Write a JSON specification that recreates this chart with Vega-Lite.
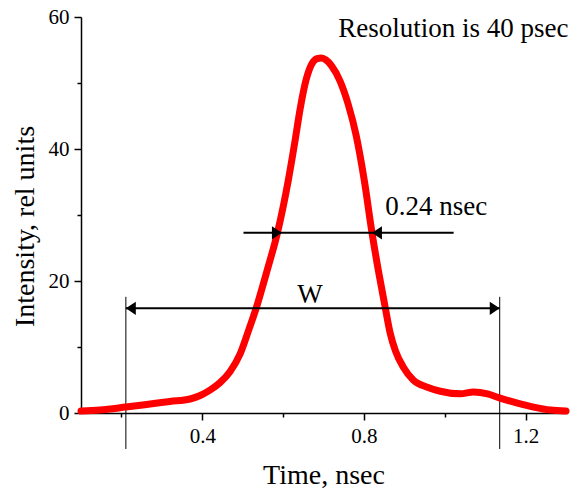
{
  "$schema": "https://vega.github.io/schema/vega-lite/v6.json",
  "width": 485,
  "height": 396,
  "autosize": {"type": "none"},
  "padding": {"left": 81, "top": 17, "right": 5, "bottom": 76},
  "background": "white",
  "config": {
    "view": {"stroke": null},
    "font": "Liberation Serif",
    "axis": {
      "grid": false,
      "domainColor": "black",
      "tickColor": "black",
      "labelColor": "black",
      "titleColor": "black",
      "domainWidth": 1.5,
      "tickWidth": 1.5,
      "labelFont": "Liberation Serif",
      "titleFont": "Liberation Serif",
      "titleFontWeight": "normal"
    }
  },
  "datasets": {
    "curve": [
      {"t": 0.100, "v": 0.30},
      {"t": 0.147, "v": 0.45},
      {"t": 0.211, "v": 0.90},
      {"t": 0.271, "v": 1.36},
      {"t": 0.320, "v": 1.74},
      {"t": 0.370, "v": 2.12},
      {"t": 0.395, "v": 2.65},
      {"t": 0.420, "v": 3.5},
      {"t": 0.444, "v": 4.6},
      {"t": 0.469, "v": 6.3},
      {"t": 0.494, "v": 9.0},
      {"t": 0.514, "v": 12.4},
      {"t": 0.535, "v": 16.2},
      {"t": 0.561, "v": 21.7},
      {"t": 0.586, "v": 27.3},
      {"t": 0.613, "v": 35.3},
      {"t": 0.630, "v": 41.4},
      {"t": 0.642, "v": 46.0},
      {"t": 0.657, "v": 50.5},
      {"t": 0.672, "v": 53.0},
      {"t": 0.684, "v": 53.7},
      {"t": 0.695, "v": 53.8},
      {"t": 0.706, "v": 53.5},
      {"t": 0.720, "v": 52.6},
      {"t": 0.741, "v": 50.3},
      {"t": 0.761, "v": 46.8},
      {"t": 0.781, "v": 42.0},
      {"t": 0.801, "v": 35.2},
      {"t": 0.820, "v": 27.3},
      {"t": 0.836, "v": 21.5},
      {"t": 0.853, "v": 15.9},
      {"t": 0.865, "v": 12.1},
      {"t": 0.878, "v": 9.4},
      {"t": 0.898, "v": 6.9},
      {"t": 0.922, "v": 5.0},
      {"t": 0.957, "v": 3.9},
      {"t": 0.989, "v": 3.3},
      {"t": 1.039, "v": 2.9},
      {"t": 1.071, "v": 3.2},
      {"t": 1.106, "v": 2.9},
      {"t": 1.135, "v": 2.3},
      {"t": 1.180, "v": 1.5},
      {"t": 1.220, "v": 0.9},
      {"t": 1.262, "v": 0.45},
      {"t": 1.300, "v": 0.30}
    ],
    "vlines": [
      {"t": 0.211, "v1": -5.45, "v2": 17.6},
      {"t": 1.136, "v1": -5.45, "v2": 17.6}
    ],
    "hlines": [
      {"t1": 0.211, "t2": 1.136, "v": 15.86},
      {"t1": 0.502, "t2": 1.022, "v": 27.3}
    ],
    "arrows": [
      {"t": 0.211, "v": 15.86, "dir": "left"},
      {"t": 1.136, "v": 15.86, "dir": "right"},
      {"t": 0.597, "v": 27.3, "dir": "right"},
      {"t": 0.820, "v": 27.3, "dir": "left"}
    ],
    "labels": [
      {"t": 0.7365, "v": 57.0, "text": "Resolution is 40 psec"},
      {"t": 0.853, "v": 30.0, "text": "0.24 nsec"},
      {"t": 0.635, "v": 16.67, "text": "W"}
    ]
  },
  "resolve": {"axis": {"x": "independent", "y": "independent"}},
  "layer": [
    {
      "data": {"name": "vlines"},
      "mark": {"type": "rule", "color": "black", "strokeWidth": 1},
      "encoding": {
        "x": {"field": "t", "type": "quantitative", "scale": {"domain": [0.1, 1.3], "nice": false, "zero": false},
              "axis": {"orient": "bottom", "values": [0.2, 0.6, 1.0], "labels": false, "domain": false, "tickSize": 4, "title": null}},
        "y": {"field": "v1", "type": "quantitative", "scale": {"domain": [0, 60], "nice": false},
              "axis": {"orient": "left", "values": [10, 30, 50], "labels": false, "domain": false, "tickSize": 4, "title": null}},
        "y2": {"field": "v2"}
      }
    },
    {
      "data": {"name": "curve"},
      "mark": {"type": "line", "color": "#ff0000", "strokeWidth": 7, "interpolate": "monotone", "strokeCap": "round", "strokeJoin": "round"},
      "encoding": {
        "x": {"field": "t", "type": "quantitative",
              "axis": {"orient": "bottom", "values": [0.4, 0.8, 1.2], "format": ".1f", "tickSize": 7, "labelFontSize": 21, "labelPadding": 5,
                       "title": "Time, nsec", "titleFontSize": 28, "titleBaseline": "alphabetic", "titleY": 70, "titleAnchor": "middle"}},
        "y": {"field": "v", "type": "quantitative",
              "axis": {"orient": "left", "values": [0, 20, 40, 60], "format": "d", "tickSize": 7, "labelFontSize": 21, "labelPadding": 5,
                       "title": "Intensity, rel units", "titleFontSize": 28, "titleBaseline": "alphabetic", "titleX": -48, "titleY": 209, "titleAngle": -90}}
      }
    },
    {
      "data": {"name": "hlines"},
      "mark": {"type": "rule", "color": "black", "strokeWidth": 2},
      "encoding": {
        "x": {"field": "t1", "type": "quantitative", "axis": null},
        "x2": {"field": "t2"},
        "y": {"field": "v", "type": "quantitative", "axis": null}
      }
    },
    {
      "data": {"name": "arrows"},
      "mark": {"type": "point", "filled": true, "color": "black", "opacity": 1, "size": 110, "strokeWidth": 0},
      "encoding": {
        "x": {"field": "t", "type": "quantitative", "axis": null},
        "y": {"field": "v", "type": "quantitative", "axis": null},
        "shape": {"field": "dir", "type": "nominal", "legend": null,
                  "scale": {"domain": ["left", "right"], "range": ["M0,0L1.9,-1.25L1.9,1.25Z", "M0,0L-1.9,-1.25L-1.9,1.25Z"]}}
      }
    },
    {
      "data": {"name": "labels"},
      "mark": {"type": "text", "align": "left", "baseline": "alphabetic", "fontSize": 27, "font": "Liberation Serif", "color": "black"},
      "encoding": {
        "x": {"field": "t", "type": "quantitative", "axis": null},
        "y": {"field": "v", "type": "quantitative", "axis": null},
        "text": {"field": "text"}
      }
    }
  ]
}
